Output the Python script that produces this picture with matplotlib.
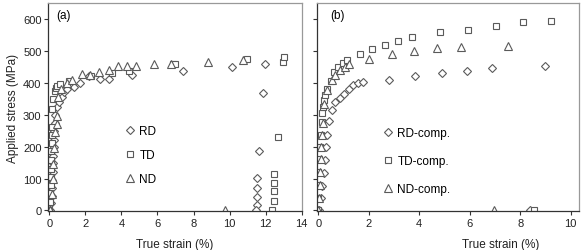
import matplotlib
matplotlib.use("Agg")
import matplotlib.pyplot as plt

plt.rcParams['font.family'] = ['Liberation Sans', 'DejaVu Sans']

# ---------------- Panel (a) data ----------------
rd_x = [0.02, 0.10, 0.12, 0.14, 0.16, 0.18, 0.20, 0.21, 0.23, 0.25, 0.27, 0.30, 0.33, 0.42,
        0.55, 0.68, 0.80, 1.0, 1.37, 1.7, 2.2, 2.8, 3.3, 4.6, 7.4, 10.15, 11.95, 11.83,
        11.64, 11.52, 11.52, 11.52, 11.52, 11.46]
rd_y = [0, 22, 45, 70, 95, 120, 148, 172, 198, 222, 250, 275, 300, 325,
        340, 355, 370, 382, 388, 400, 420, 412, 412, 425, 437, 449, 459, 368,
        185, 101, 70, 42, 18, 0]

td_x = [0.0, 0.04, 0.06, 0.07, 0.08, 0.09, 0.10, 0.11, 0.12, 0.13, 0.14, 0.17, 0.22, 0.30,
        0.35, 0.40, 0.59, 1.1, 2.3, 3.5, 4.4, 6.85, 6.95, 10.95, 12.94, 13.0, 12.67,
        12.44, 12.44, 12.44, 12.44, 12.33]
td_y = [0, 28, 55, 80, 105, 130, 158, 185, 210, 235, 260, 318, 350, 375,
        385, 391, 397, 405, 422, 430, 437, 459, 459, 476, 464, 481, 230,
        115, 87, 60, 31, 0]

nd_x = [0.02, 0.12, 0.18, 0.22, 0.28, 0.33, 0.40, 0.44, 0.50, 0.67, 0.96, 1.28, 1.83, 2.26,
        2.76, 3.31, 3.81, 4.3, 4.8, 5.8, 6.75, 8.8, 10.75, 9.75]
nd_y = [0, 50, 100, 146, 195, 245, 270, 297, 355, 381, 400, 410, 428, 425,
        435, 440, 454, 454, 454, 459, 459, 464, 471, 0]

# ---------------- Panel (b) data ----------------
rdc_x = [0.03, 0.09, 0.16, 0.22, 0.26, 0.29, 0.33, 0.42, 0.55, 0.68, 0.85, 1.01, 1.21,
         1.38, 1.57, 1.78, 2.79, 3.85, 4.9, 5.89, 6.9, 8.99, 8.37]
rdc_y = [0, 38, 78, 118, 158, 198, 237, 280, 315, 340, 352, 365, 380,
         393, 399, 402, 410, 420, 432, 437, 447, 454, 0]

tdc_x = [-0.02, -0.02, -0.02, 0.0, 0.03, 0.07, 0.09, 0.13, 0.13, 0.18, 0.22, 0.26, 0.33,
         0.49, 0.62, 0.79, 0.99, 1.12, 1.65, 2.13, 2.63, 3.16, 3.73, 4.81, 5.92, 7.05,
         8.13, 9.22, 8.56]
tdc_y = [0, 40, 80, 120, 160, 200, 237, 278, 306, 325, 346, 361, 382,
         406, 434, 449, 462, 472, 489, 506, 520, 532, 545, 560, 566, 579,
         591, 594, 1]

ndc_x = [0.0, 0.03, 0.05, 0.07, 0.09, 0.11, 0.13, 0.18, 0.22, 0.33, 0.53, 0.68, 0.88,
         1.05, 1.21, 2.0, 2.92, 3.81, 4.7, 5.65, 7.51, 6.97]
ndc_y = [0, 40, 80, 120, 160, 200, 237, 275, 335, 377, 408, 426, 439,
         449, 460, 475, 491, 499, 508, 511, 516, 0]

left_labels = ['RD', 'TD', 'ND']
right_labels = ['RD-comp.', 'TD-comp.', 'ND-comp.']

ec = '#5a5a5a'
mk = dict(linestyle='none', markerfacecolor='white', markeredgecolor=ec, markeredgewidth=0.8)

fig = plt.figure(figsize=(5.82, 2.51), dpi=100)
ax1 = fig.add_axes([0.0833, 0.155, 0.435, 0.829])
ax2 = fig.add_axes([0.5447, 0.155, 0.451, 0.829])

ax1.plot(rd_x, rd_y, marker='D', markersize=4.4, label=left_labels[0], **mk)
ax1.plot(td_x, td_y, marker='s', markersize=4.4, label=left_labels[1], **mk)
ax1.plot(nd_x, nd_y, marker='^', markersize=5.4, label=left_labels[2], **mk)

ax2.plot(rdc_x, rdc_y, marker='D', markersize=4.4, label=right_labels[0], **mk)
ax2.plot(tdc_x, tdc_y, marker='s', markersize=4.4, label=right_labels[1], **mk)
ax2.plot(ndc_x, ndc_y, marker='^', markersize=5.4, label=right_labels[2], **mk)

ax1.set_xlim(-0.05, 14)
ax1.set_ylim(-2, 650)
ax2.set_xlim(-0.05, 10.35)
ax2.set_ylim(-2, 650)

ax1.set_xticks(range(0, 15, 2))
ax1.set_yticks(range(0, 601, 100))
ax2.set_xticks(range(0, 11, 2))
ax2.set_yticks(range(0, 601, 100))
ax2.set_yticklabels([])

for ax in (ax1, ax2):
    ax.tick_params(direction='out', length=3, width=0.8, labelsize=8, colors='#333333',
                   labelcolor='#222222', pad=2)
    ax.spines['left'].set_color('#333333')
    ax.spines['bottom'].set_color('#333333')
    ax.spines['top'].set_color('#999999')
    ax.spines['right'].set_color('#999999')
    for s in ax.spines.values():
        s.set_linewidth(0.9)

ax1.set_ylabel('Applied stress (MPa)', fontsize=8.5, color='#222222', labelpad=3)
ax1.set_xlabel('True strain (%)', fontsize=8.5, color='#222222')
ax2.set_xlabel('True strain (%)', fontsize=8.5, color='#222222')
ax1.xaxis.set_label_coords(0.5, -0.13)
ax2.xaxis.set_label_coords(0.70, -0.13)

ax1.text(0.03, 0.97, '(a)', transform=ax1.transAxes, fontsize=8.5, va='top', ha='left')
ax2.text(0.05, 0.97, '(b)', transform=ax2.transAxes, fontsize=8.5, va='top', ha='left')

ax1.legend(loc='upper left', bbox_to_anchor=(0.28, 0.435), frameon=False, fontsize=8.5,
           labelspacing=1.0, handletextpad=0.3, handlelength=1.0, borderaxespad=0)
ax2.legend(loc='upper left', bbox_to_anchor=(0.23, 0.425), frameon=False, fontsize=8.5,
           labelspacing=1.35, handletextpad=0.3, handlelength=1.0, borderaxespad=0)

fig.savefig('out.png', dpi=100)
